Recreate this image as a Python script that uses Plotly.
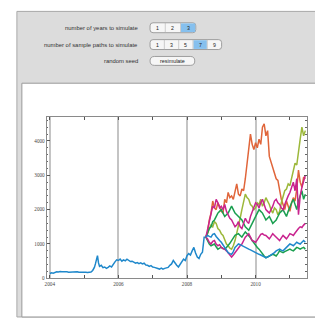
import plotly.graph_objects as go

W, H = 315, 318

# ---------------- data ----------------
hist_t = [2004.00, 2004.05, 2004.10, 2004.15, 2004.20, 2004.25, 2004.30, 2004.35, 2004.40, 2004.45,
          2004.50, 2004.55, 2004.60, 2004.65, 2004.70, 2004.75, 2004.80, 2004.85, 2004.90, 2004.95,
          2005.00, 2005.05, 2005.10, 2005.15, 2005.20, 2005.25, 2005.30, 2005.33, 2005.36, 2005.39,
          2005.42, 2005.45, 2005.50, 2005.55, 2005.60, 2005.65, 2005.70, 2005.75, 2005.80, 2005.85,
          2005.90, 2005.95, 2006.00, 2006.05, 2006.10, 2006.15, 2006.20, 2006.25, 2006.30, 2006.35,
          2006.40, 2006.45, 2006.50, 2006.55, 2006.60, 2006.65, 2006.70, 2006.75, 2006.80, 2006.85,
          2006.90, 2006.95, 2007.00, 2007.05, 2007.10, 2007.15, 2007.20, 2007.25, 2007.30, 2007.35,
          2007.40, 2007.45, 2007.50, 2007.55, 2007.60, 2007.65, 2007.70, 2007.75, 2007.80, 2007.85,
          2007.90, 2007.95, 2008.00, 2008.05, 2008.10, 2008.15, 2008.20, 2008.25, 2008.30, 2008.35,
          2008.40, 2008.45, 2008.50, 2008.55]
hist_v = [140, 160, 150, 175, 190, 185, 200, 190, 195, 185,
          190, 180, 185, 175, 185, 180, 190, 175, 180, 170,
          185, 175, 170, 180, 185, 230, 320, 420, 600, 660,
          450, 350, 380, 310, 330, 290, 320, 360, 330, 420,
          480, 540, 520, 560, 500, 540, 510, 560, 530, 490,
          500, 460, 440, 460, 430, 450, 420, 440, 390, 380,
          350, 370, 330, 320, 300, 290, 270, 300, 270, 290,
          300, 320, 380, 420, 520, 440, 380, 330, 420, 480,
          560, 520, 660, 720, 680, 800, 900, 740, 620, 580,
          700, 760, 1200, 1200]

sim_t = [2008.55, 2008.60, 2008.65, 2008.70, 2008.75, 2008.80, 2008.85, 2008.90, 2008.95,
         2009.00, 2009.05, 2009.10, 2009.15, 2009.20, 2009.25, 2009.30, 2009.35, 2009.40, 2009.45, 2009.50,
         2009.55, 2009.60, 2009.65, 2009.70, 2009.75, 2009.80, 2009.85, 2009.90, 2009.95,
         2010.00, 2010.05, 2010.10, 2010.15, 2010.20, 2010.25, 2010.30, 2010.35, 2010.40, 2010.45, 2010.50,
         2010.55, 2010.60, 2010.65, 2010.70, 2010.75, 2010.80, 2010.85, 2010.90, 2010.95,
         2011.00, 2011.05, 2011.10, 2011.15, 2011.20, 2011.25, 2011.30, 2011.35, 2011.40, 2011.45]

path_orange = [1200, 1350, 1700, 1900, 2250, 2050, 2000, 2200, 2100,
               1950, 1900, 2300, 2200, 2500, 2350, 2400, 2300, 2550, 2750, 2450,
               2400, 2600, 2550, 2900, 3300, 3700, 4200, 3900, 3750,
               3950, 3800, 4050, 3900, 4400, 4500, 4150, 4300, 3550, 3400, 3200,
               3050, 2900, 2850, 2500, 2300, 2150, 2000, 2250, 2100,
               1950, 2200, 2350, 2250, 2600, 3150, 2800, 2650, 2950, 2900]
path_yellowgreen = [1200, 1300, 1450, 1550, 1500, 1650, 1600, 1450, 1400,
                    1300, 1250, 1100, 1000, 950, 880, 850, 950, 1100, 1300, 1500,
                    1750, 2000, 2250, 2450, 2350, 2300, 2150, 2100, 2000,
                    2050, 2200, 2150, 2300, 2100, 2200, 2350, 2250, 2150, 2000, 1900,
                    2050, 2000, 1850, 1950, 2200, 2400, 2550, 2600, 2750,
                    2700, 2900, 3100, 3350, 3300, 3750, 4050, 4400, 4150, 4300]
path_magenta_hi = [1200, 1450, 1700, 1850, 2100, 2050, 2300, 2200, 2050,
                   2100, 2000, 2150, 1950, 1850, 1750, 1700, 1600, 1500, 1550, 1650,
                   1500, 1450, 1600, 1750, 1650, 1600, 1800, 1950, 2100,
                   2200, 2150, 2050, 2200, 2300, 2150, 2000, 1950, 1900, 2000, 2100,
                   2250, 2300, 2200, 2150, 2050, 2000, 2150, 2300, 2400,
                   2500, 2650, 2800, 2550, 2900, 1850, 2400, 2650, 2800, 3000]
path_magenta_lo = [1200, 1150, 1050, 1000, 1080, 1100, 1000, 950, 980,
                   900, 870, 850, 800, 750, 680, 620, 680, 750, 820, 900,
                   950, 1000, 1100, 1200, 1250, 1300, 1200, 1100, 1080,
                   1050, 1120, 1200, 1280, 1300, 1260, 1250, 1200, 1150, 1220, 1300,
                   1250, 1200, 1150, 1100, 1180, 1250, 1200, 1150, 1220,
                   1300, 1280, 1250, 1320, 1400, 1450, 1500, 1480, 1550, 1600]
path_green_hi = [1200, 1350, 1450, 1500, 1650, 1700, 1800, 1900, 1950,
                 2000, 1900, 1800, 1850, 1900, 2000, 2100, 2000, 1900, 1850, 1800,
                 1750, 1700, 1600, 1500, 1450, 1400, 1500, 1600, 1700,
                 1800, 1900, 2000, 1950, 1900, 1800, 1700, 1750, 1800, 1700, 1600,
                 1650, 1700, 1800, 1900, 1950, 2000, 1900, 1800, 1950,
                 2100, 2200, 2300, 2150, 2000, 2250, 2400, 2550, 2300, 2450]
path_green_lo = [1200, 1100, 1000, 950, 980, 1000, 920, 850, 880,
                 900, 870, 850, 900, 950, 1020, 1100, 1180, 1250, 1280, 1300,
                 1250, 1200, 1280, 1350, 1300, 1250, 1180, 1100, 1020,
                 950, 900, 850, 780, 700, 650, 600, 620, 650, 680, 700,
                 680, 650, 720, 800, 770, 750, 780, 800, 830,
                 850, 820, 800, 850, 900, 880, 850, 880, 900, 850]
path_blue = [1200, 1250, 1220, 1200, 1280, 1300, 1220, 1150, 1100,
             1050, 980, 900, 820, 750, 720, 700, 780, 900, 950, 1000,
             980, 950, 920, 900, 870, 850, 830, 800, 780,
             750, 720, 700, 680, 650, 620, 600, 620, 650, 680, 700,
             750, 800, 830, 850, 820, 800, 850, 900, 950,
             1000, 980, 950, 1000, 1050, 1020, 1000, 1050, 1100, 1050]

x_major = [2004, 2006, 2008, 2010]
x_minor = [2005, 2007, 2009, 2011]
y_major = [0, 1000, 2000, 3000, 4000]

years_opts = ["1", "2", "3"]
paths_opts = ["1", "3", "5", "7", "9"]

C_BLUE = "#1f88cb"
C_ORANGE = "#e0653a"
C_YG = "#9cb83a"
C_MAG = "#c9238e"
C_GREEN = "#1a9f50"

# ---------------- figure ----------------
fig = go.Figure()

fig.add_trace(go.Scatter(x=hist_t, y=hist_v, mode="lines",
                         line=dict(color=C_BLUE, width=1.5), hoverinfo="skip"))
sims = [(path_orange, C_ORANGE), (path_yellowgreen, C_YG), (path_green_hi, C_GREEN),
        (path_magenta_hi, C_MAG), (path_green_lo, C_GREEN), (path_magenta_lo, C_MAG),
        (path_blue, C_BLUE)]
for vals, col in sims:
    fig.add_trace(go.Scatter(x=sim_t, y=vals, mode="lines",
                             line=dict(color=col, width=1.5), hoverinfo="skip"))


def px(x):
    return x / W


def py(y):
    return 1 - y / H


def rrect(x0, y0, x1, y1, r):
    rx, ry = r / W, r / H
    a, b, c, d = px(x0), py(y1), px(x1), py(y0)
    return (f"M {a+rx},{b} L {c-rx},{b} Q {c},{b} {c},{b+ry} L {c},{d-ry} "
            f"Q {c},{d} {c-rx},{d} L {a+rx},{d} Q {a},{d} {a},{d-ry} "
            f"L {a},{b+ry} Q {a},{b} {a+rx},{b} Z")


shapes = []
shapes.append(dict(type="rect", xref="paper", yref="paper", layer="below",
                   x0=px(15), x1=px(318), y0=py(320), y1=py(11.5),
                   fillcolor="#dcdcdc", line=dict(color="#a8a8a8", width=1)))
shapes.append(dict(type="rect", xref="paper", yref="paper", layer="below",
                   x0=px(20), x1=px(318), y0=py(320), y1=py(84),
                   fillcolor="#ffffff", line=dict(color="#9a9a9a", width=1)))

annotations = []
lab_font = dict(family="Liberation Sans, Arial", size=5.9, color="#333333")
rows = [(28, "number of years to simulate"),
        (45, "number of sample paths to simulate"),
        (61.5, "random seed")]
for yc, txt in rows:
    annotations.append(dict(xref="paper", yref="paper", x=px(138.5), y=py(yc),
                            xanchor="right", yanchor="middle", text=txt,
                            showarrow=False, font=lab_font))


def button_group(x0, x1, yc, opts, sel):
    h = 10
    n = len(opts)
    wseg = (x1 - x0) / n
    shapes.append(dict(type="path", xref="paper", yref="paper", layer="below",
                       path=rrect(x0, yc - h / 2, x1, yc + h / 2, 3),
                       fillcolor="#f6f6f6", line=dict(color="#8a8a8a", width=0.8)))
    for i, o in enumerate(opts):
        sx0 = x0 + i * wseg
        sx1 = sx0 + wseg
        if o == sel:
            shapes.append(dict(type="rect", xref="paper", yref="paper", layer="below",
                               x0=px(sx0 + 0.5), x1=px(sx1 - 0.5),
                               y0=py(yc + h / 2 - 0.6), y1=py(yc - h / 2 + 0.6),
                               fillcolor="#86c0ee", line=dict(width=0)))
        if i > 0:
            shapes.append(dict(type="line", xref="paper", yref="paper", layer="below",
                               x0=px(sx0), x1=px(sx0), y0=py(yc + h / 2), y1=py(yc - h / 2),
                               line=dict(color="#b0b0b0", width=0.6)))
        annotations.append(dict(xref="paper", yref="paper", x=px((sx0 + sx1) / 2), y=py(yc),
                                xanchor="center", yanchor="middle", text=o, showarrow=False,
                                font=dict(family="Liberation Sans, Arial", size=5.2, color="#222")))


button_group(149, 195, 28, years_opts, "3")
button_group(149, 221, 45, paths_opts, "7")
shapes.append(dict(type="path", xref="paper", yref="paper", layer="below",
                   path=rrect(149, 57, 194, 66, 4.5),
                   fillcolor="#f6f6f6", line=dict(color="#8a8a8a", width=0.8)))
annotations.append(dict(xref="paper", yref="paper", x=px(171.5), y=py(61.5),
                        xanchor="center", yanchor="middle", text="resimulate", showarrow=False,
                        font=dict(family="Liberation Sans, Arial", size=5.4, color="#222")))

tick_font = dict(family="Liberation Serif, Times New Roman", size=5.2, color="#444444")

fig.update_layout(
    width=W, height=H, margin=dict(l=0, r=0, t=0, b=0),
    paper_bgcolor="#ffffff", plot_bgcolor="rgba(0,0,0,0)",
    showlegend=False, shapes=shapes, annotations=annotations,
    xaxis=dict(domain=[px(45), px(307)], range=[2003.91, 2011.5],
               tickvals=x_major, ticktext=[str(v) for v in x_major],
               ticks="inside", ticklen=3, tickwidth=0.8, tickcolor="#555",
               showgrid=True, gridcolor="#c4c4c4", gridwidth=2,
               showline=True, linecolor="#8a8a8a", linewidth=1, mirror="ticks",
               zeroline=False, tickfont=tick_font,
               minor=dict(tickvals=x_minor, ticks="inside", ticklen=3, tickwidth=0.8,
                          tickcolor="#555", showgrid=False)),
    yaxis=dict(domain=[py(281), py(118)], range=[0, 4700],
               tickvals=y_major, ticktext=[str(v) for v in y_major],
               ticks="inside", ticklen=3, tickwidth=0.8, tickcolor="#555",
               showgrid=False, showline=True, linecolor="#8a8a8a", linewidth=1,
               mirror="ticks", zeroline=False, tickfont=tick_font,
               minor=dict(dtick=200, ticks="inside", ticklen=1.6, tickwidth=0.6,
                          tickcolor="#666", showgrid=False)),
)

fig.write_html("out.html", config={"displayModeBar": False},
               post_script="document.body.style.margin='0';document.body.style.overflow='hidden';")
